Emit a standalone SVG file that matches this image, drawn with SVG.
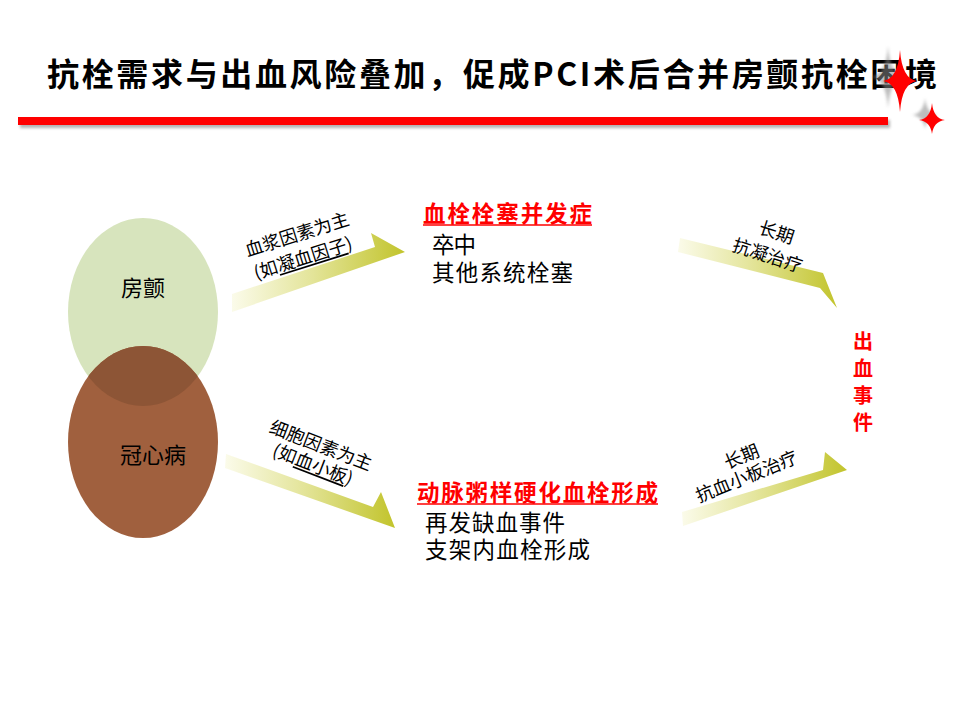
<svg xmlns="http://www.w3.org/2000/svg" width="960" height="720" viewBox="0 0 960 720">
<defs>
  <style>
    text { font-family: "Noto Sans CJK SC", "Noto Sans", sans-serif; fill: #000; }
    .title { font-size: 32px; font-weight: bold; }
    .lbl { font-size: 18px; }
    .body { font-size: 22.5px; }
    .hdr { font-size: 22.5px; font-weight: bold; fill: #ff0000; }
    .node { font-size: 22px; }
    .bleed { font-size: 20px; font-weight: bold; fill: #ff0000; }
    .arrow { stroke: none; }
    .ul { text-decoration: underline; }
  </style>
  <linearGradient id="gArrow" x1="0" y1="0" x2="1" y2="0">
    <stop offset="0" stop-color="#fbfbea"/>
    <stop offset="0.45" stop-color="#e4e59c"/>
    <stop offset="1" stop-color="#c2c42c"/>
  </linearGradient>
  <filter id="blur" x="-50%" y="-50%" width="200%" height="200%">
    <feGaussianBlur stdDeviation="1.5"/>
  </filter>
  <clipPath id="clipGreen">
    <ellipse cx="143" cy="312" rx="75" ry="94"/>
  </clipPath>
</defs>

<rect width="960" height="720" fill="#ffffff"/>

<!-- header -->
<g id="header">
  <text class="title" x="47" y="86" textLength="890" lengthAdjust="spacing">抗栓需求与出血风险叠加，促成PCI术后合并房颤抗栓困境</text>
  <rect x="20" y="120" width="870" height="8" fill="#808080" opacity="0.6" filter="url(#blur)"/>
  <rect x="18" y="117" width="870" height="8" fill="#ff0000"/>
  <path d="M888,46 Q890,75 905,77 Q890,79 888,108 Q886,79 871,77 Q886,75 888,46 Z" fill="#888888" opacity="0.55" filter="url(#blur)"/>
  <path d="M900,50 Q902,79 917,81 Q902,83 900,112 Q898,83 883,81 Q898,79 900,50 Z" fill="#ff0000"/>
  <path d="M925,98 Q926.5,113.5 938,115 Q926.5,116.5 925,129 Q923.5,116.5 912,115 Q923.5,113.5 925,98 Z" fill="#888888" opacity="0.55" filter="url(#blur)"/>
  <path d="M932,103 Q933.5,118.5 945,120 Q933.5,121.5 932,134 Q930.5,121.5 919,120 Q930.5,118.5 932,103 Z" fill="#ff0000"/>
</g>

<!-- nodes -->
<g id="node-af">
  <ellipse cx="143" cy="312" rx="75" ry="94" fill="#d7e4bd"/>
</g>
<g id="node-cad">
  <ellipse cx="143" cy="442" rx="75" ry="96" fill="#a0603e"/>
  <ellipse cx="143" cy="442" rx="75" ry="96" fill="#8d5536" clip-path="url(#clipGreen)"/>
  <text class="node" x="153" y="463" text-anchor="middle">冠心病</text>
</g>
<g id="node-af-label">
  <text class="node" x="143" y="296" text-anchor="middle">房颤</text>
</g>

<g id="node-thrombo">
  <text class="hdr" x="423" y="222" textLength="169" lengthAdjust="spacing">血栓栓塞并发症</text>
  <line x1="423" y1="225" x2="592" y2="225" stroke="#ff0000" stroke-width="1.5"/>
  <text class="body" x="432" y="253" textLength="44" lengthAdjust="spacing">卒中</text>
  <text class="body" x="432" y="281" textLength="141" lengthAdjust="spacing">其他系统栓塞</text>
</g>

<g id="node-athero">
  <text class="hdr" x="417" y="501" textLength="241" lengthAdjust="spacing">动脉粥样硬化血栓形成</text>
  <line x1="417" y1="504" x2="658" y2="504" stroke="#ff0000" stroke-width="1.5"/>
  <text class="body" x="425" y="531" textLength="140" lengthAdjust="spacing">再发缺血事件</text>
  <text class="body" x="425" y="558" textLength="165" lengthAdjust="spacing">支架内血栓形成</text>
</g>

<g id="node-bleeding">
  <text class="bleed" x="863" y="349" text-anchor="middle">出</text>
  <text class="bleed" x="863" y="376" text-anchor="middle">血</text>
  <text class="bleed" x="863" y="403" text-anchor="middle">事</text>
  <text class="bleed" x="863" y="430" text-anchor="middle">件</text>
</g>

<!-- connectors -->
<g id="connectors">
  <polygon class="arrow" fill="url(#gArrow)" points="232,294 375,247 371,233 405,252 232,312"/>
  <polygon class="arrow" fill="url(#gArrow)" points="226,454 373,507 381,492 395,528 225,468"/>
  <polygon class="arrow" fill="url(#gArrow)" points="680,238 823,273 837,308 820,288 678,252"/>
  <polygon class="arrow" fill="url(#gArrow)" points="682,512 823,470 825,452 847,470 683,526"/>

  <g transform="translate(296.5,233) rotate(-17.5)">
    <text class="lbl" x="0" y="0" text-anchor="middle" dominant-baseline="central">血浆因素为主</text>
  </g>
  <g transform="translate(302.5,256.5) rotate(-17.5)">
    <text class="lbl" x="0" y="0" text-anchor="middle" dominant-baseline="central">(如<tspan class="ul">凝血因子</tspan>)</text>
  </g>

  <g transform="translate(321.5,444) rotate(21)">
    <text class="lbl" x="0" y="0" text-anchor="middle" dominant-baseline="central">细胞因素为主</text>
  </g>
  <g transform="translate(313.5,463) rotate(21)">
    <text class="lbl" x="0" y="0" text-anchor="middle" dominant-baseline="central">(如<tspan class="ul">血小板</tspan>)</text>
  </g>

  <g transform="translate(777,231) rotate(18)">
    <text class="lbl" x="0" y="0" text-anchor="middle" dominant-baseline="central">长期</text>
  </g>
  <g transform="translate(768,254) rotate(18)">
    <text class="lbl" x="0" y="0" text-anchor="middle" dominant-baseline="central">抗凝治疗</text>
  </g>

  <g transform="translate(741,455) rotate(-22)">
    <text class="lbl" x="0" y="0" text-anchor="middle" dominant-baseline="central">长期</text>
  </g>
  <g transform="translate(746,475) rotate(-22)">
    <text class="lbl" x="0" y="0" text-anchor="middle" dominant-baseline="central">抗血小板治疗</text>
  </g>
</g>
</svg>
